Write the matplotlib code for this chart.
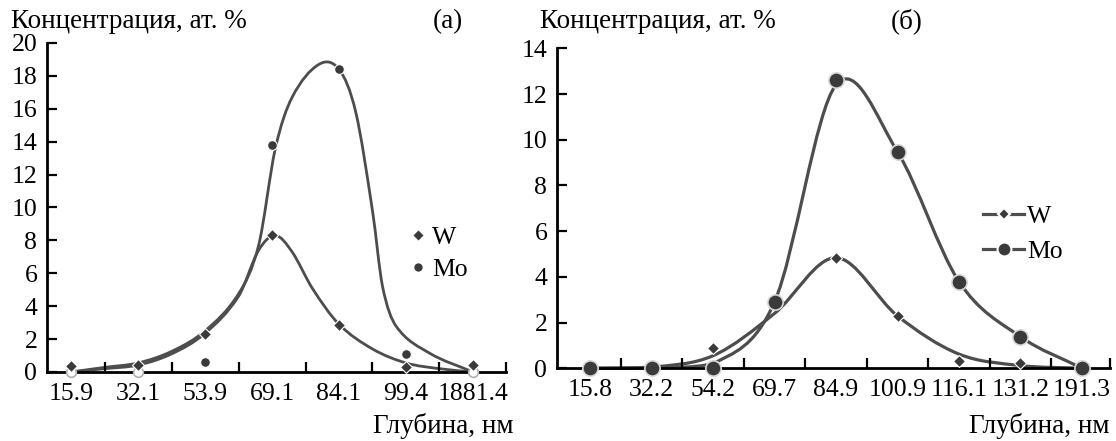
import numpy as np
import matplotlib
matplotlib.use("Agg")
import matplotlib.pyplot as plt
from matplotlib.path import Path
from matplotlib.patches import PathPatch
from matplotlib.lines import Line2D

plt.rcParams['font.family'] = ['Liberation Serif', 'DejaVu Serif']

# ---- panel (а) ----
depth_a = ["15.9", "32.1", "53.9", "69.1", "84.1", "99.4", "1881.4"]
w_a = [0.38, 0.4, 2.3, 8.3, 2.85, 0.33, 0.42]
mo_a = [0.0, 0.0, 0.63, 13.8, 18.4, 1.1, 0.0]

# smoothed curves as drawn in the figure (read at category positions)
w_a_curve_x = [0, 0.5, 1, 1.5, 2, 2.5, 2.8, 3.05, 3.3, 3.6, 4, 4.5, 5, 5.5, 6]
w_a_curve_y = [0, 0.2, 0.42, 1.1, 2.35, 4.6, 7.4, 8.3, 7.3, 5.1, 2.9, 1.4, 0.55, 0.2, 0]
mo_a_curve_x = [0, 0.5, 1, 1.5, 2, 2.5, 2.8, 3.05, 3.3, 3.7, 4, 4.25, 4.5, 4.65, 4.85, 5.35, 6]
mo_a_curve_y = [0, 0.28, 0.55, 1.25, 2.5, 4.75, 7.7, 13.6, 16.7, 18.7, 18.4, 15.8, 9.8, 5.2, 2.8, 1.15, 0]

# ---- panel (б) ----
depth_b = ["15.8", "32.2", "54.2", "69.7", "84.9", "100.9", "116.1", "131.2", "191.3"]
w_b = [0.0, 0.0, 0.87, 2.85, 4.84, 2.29, 0.32, 0.22, 0.0]
mo_b = [0.0, 0.0, 0.0, 2.9, 12.6, 9.47, 3.79, 1.38, 0.0]
w_b_curve = [0.0, 0.05, 0.55, 2.4, 4.84, 2.29, 0.62, 0.12, 0.0]
mo_b_curve = [0.0, 0.02, 0.2, 2.9, 12.4, 9.47, 3.79, 1.38, 0.0]

LINE = '#4d4d4d'
MARK = '#3a3a3a'
FS = 18.5
FT = 19.5


def smooth_path(xs, ys):
    # cubic hermite through the points, drawn as bezier segments
    x = np.asarray(xs, float)
    y = np.asarray(ys, float)
    n = len(x)
    m = np.zeros(n)
    for i in range(n):
        a = max(i - 1, 0)
        b = min(i + 1, n - 1)
        m[i] = (y[b] - y[a]) / (x[b] - x[a])
    verts = [(x[0], y[0])]
    codes = [Path.MOVETO]
    for i in range(n - 1):
        dx = x[i + 1] - x[i]
        c1 = (x[i] + dx / 3, max(y[i] + m[i] * dx / 3, 0))
        c2 = (x[i + 1] - dx / 3, max(y[i + 1] - m[i + 1] * dx / 3, 0))
        verts += [c1, c2, (x[i + 1], y[i + 1])]
        codes += [Path.CURVE4] * 3
    return Path(verts, codes)


def style_axes(ax, labels, xmax, ymax):
    n = len(labels)
    ax.set_xticks(range(n))
    ax.set_xticklabels(labels, fontsize=FS)
    ax.tick_params(axis='x', length=0, pad=8)
    ax.set_xticks(list(np.arange(0.5, n - 1, 1.0)) + [xmax], minor=True)
    ax.tick_params(axis='x', which='minor', direction='in', length=7, width=1.6)
    ax.set_yticks(range(0, ymax + 1, 2))
    ax.tick_params(axis='y', direction='in', length=7, width=1.6, labelsize=FS, pad=7)
    for s in ['top', 'right']:
        ax.spines[s].set_visible(False)
    for s in ['left', 'bottom']:
        ax.spines[s].set_linewidth(2)
    ax.set_ylim(0, ymax)


fig = plt.figure(figsize=(11.16, 4.41), dpi=100)

# panel (а)
ax1 = fig.add_axes([0.0421, 0.1565, 0.4117, 0.746])
ax1.set_xlim(-0.36, 6.5)
style_axes(ax1, depth_a, 6.5, 20)
ax1.add_patch(PathPatch(smooth_path(mo_a_curve_x, mo_a_curve_y), fill=False,
                        edgecolor=LINE, lw=2.0, clip_on=False))
ax1.add_patch(PathPatch(smooth_path(w_a_curve_x, w_a_curve_y), fill=False,
                        edgecolor=LINE, lw=2.0, clip_on=False))
xa = np.arange(len(depth_a))
mo_a_arr = np.array(mo_a)
zero = mo_a_arr == 0
ax1.plot(xa[zero], mo_a_arr[zero], ls='none', marker='o', ms=7, mfc='white',
         mec='#b0b0b0', mew=1.2, clip_on=False, zorder=3)
ax1.plot(xa[~zero], mo_a_arr[~zero], ls='none', marker='o', ms=7, mfc=MARK,
         mec='white', mew=0.8, clip_on=False, zorder=4)
ax1.plot(xa, w_a, ls='none', marker='D', ms=6, mfc=MARK, mec='white',
         mew=0.8, clip_on=False, zorder=5)
h1 = [Line2D([], [], ls='none', marker='D', ms=6, mfc=MARK, mec='white'),
      Line2D([], [], ls='none', marker='o', ms=7, mfc=MARK, mec='white')]
fig.legend(h1, ['W', 'Mo'], loc='upper left', bbox_to_anchor=(0.369, 0.487),
           frameon=False, fontsize=FS, handlelength=0.5, handletextpad=0.3,
           labelspacing=0.35, borderpad=0, borderaxespad=0)

# panel (б)
ax2 = fig.add_axes([0.4991, 0.1649, 0.4955, 0.7256])
ax2.set_xlim(-0.537, 8.455)
style_axes(ax2, depth_b, 8.455, 14)
xb = np.arange(len(depth_b))
ax2.add_patch(PathPatch(smooth_path(xb, mo_b_curve), fill=False,
                        edgecolor=LINE, lw=2.3, clip_on=False))
ax2.add_patch(PathPatch(smooth_path(xb, w_b_curve), fill=False,
                        edgecolor=LINE, lw=2.3, clip_on=False))
ax2.plot(xb, w_b, ls='none', marker='D', ms=6.5, mfc=MARK, mec='white',
         mew=0.8, clip_on=False, zorder=4)
ax2.plot(xb, mo_b, ls='none', marker='o', ms=11, mfc=MARK, mec='#d8d8d8',
         mew=1.2, clip_on=False, zorder=5)
h2 = [Line2D([], [], color=LINE, lw=2.3, marker='D', ms=6.5, mfc=MARK, mec='white', mew=1.5),
      Line2D([], [], color=LINE, lw=2.3, marker='o', ms=10, mfc=MARK, mec='white', mew=1.5)]
fig.legend(h2, ['W', 'Mo'], loc='upper left', bbox_to_anchor=(0.881, 0.534),
           frameon=False, fontsize=FS, handlelength=1.6, handletextpad=0.12,
           labelspacing=0.45, borderpad=0, borderaxespad=0)

# texts
fig.text(0.010, 0.937, "Концентрация, ат. %", fontsize=FT, ha='left', va='baseline')
fig.text(0.401, 0.937, "(а)", fontsize=FT, ha='center', va='baseline')
fig.text(0.484, 0.937, "Концентрация, ат. %", fontsize=FT, ha='left', va='baseline')
fig.text(0.812, 0.937, "(б)", fontsize=FT, ha='center', va='baseline')
fig.text(0.460, 0.018, "Глубина, нм", fontsize=FT, ha='right', va='baseline')
fig.text(0.9946, 0.018, "Глубина, нм", fontsize=FT, ha='right', va='baseline')

fig.savefig("out.png", dpi=100)
